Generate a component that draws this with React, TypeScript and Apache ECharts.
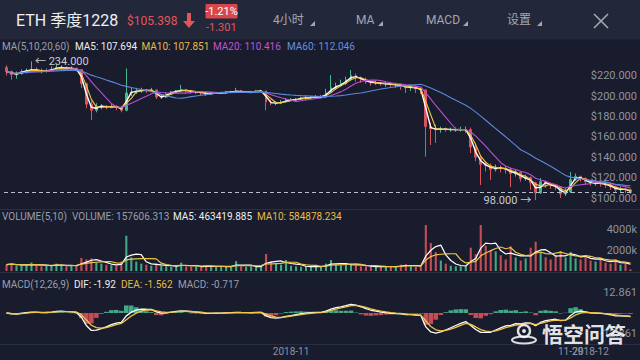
import React, { useEffect, useRef } from "react";
import * as echarts from "echarts";

// ---------- data (12h candles) ----------
const START_TIME = Date.UTC(2018, 9, 3, 12);
const STEP_HOURS = 12;
const FIRST_OPEN = 228;

const closes = [
  224, 221, 222, 224, 225, 226, 225, 224, 225, 226, 228, 228, 227, 227, 226,
  212, 192, 186, 190, 190, 189, 190, 189, 186, 203, 204, 205, 206, 205, 206,
  199, 199, 202, 204, 205, 206, 205, 204, 204, 203, 202, 203, 203, 203, 204,
  204, 205, 204, 204, 204, 205, 205, 194, 193, 193, 194, 196, 196, 197, 198,
  198, 199, 199, 199, 203, 208, 210, 212, 216, 220, 218, 216, 214, 213, 213,
  212, 212, 211, 211, 210, 208, 209, 207, 206, 170, 168, 167, 168, 167, 167,
  167, 167, 167, 150, 140, 133, 132, 128, 130, 129, 128, 124, 125, 119, 120,
  115, 105, 116, 114, 112, 111, 104, 106, 118, 121, 119, 116, 114, 115, 114,
  113, 111, 108, 109, 108, 105.398,
];
const highs = [
  230, 225, 224, 226, 227, 234, 228, 227, 227, 229, 231, 230, 229, 229, 228,
  226, 213, 195, 193, 192, 191, 192, 191, 190, 227, 208, 208, 208, 207, 208,
  206, 201, 203, 205, 206, 211, 207, 206, 205, 205, 204, 204, 204, 204, 205,
  205, 208, 206, 205, 205, 206, 206, 205, 196, 195, 196, 198, 198, 198, 199,
  200, 200, 201, 201, 207, 220.6, 213, 216, 219, 225.5, 222, 219, 218, 215, 215,
  214, 214, 213, 213, 212, 211, 211, 210, 208, 206, 174, 172, 170, 169, 169,
  169, 170, 170, 169, 152, 142, 136, 134, 133, 132, 131, 130, 128, 126, 123,
  121, 116, 119.6, 117, 115, 113, 111, 110, 125.5, 124, 122, 120, 117, 117, 116,
  115, 114, 112, 111, 110, 109,
];
const lows = [
  220, 216, 217, 221, 222, 224, 223, 222, 223, 224, 225, 226, 225, 225, 224,
  208, 188, 176.5, 184, 187, 187, 188, 186, 184, 185, 200, 202, 203, 203, 204,
  197, 197, 198, 201, 203, 204, 203, 202, 202, 201, 200, 201, 202, 202, 202,
  203, 203, 203, 203, 203, 203, 204, 186, 191, 191, 192, 194, 195, 195, 196,
  196, 197, 197, 198, 198, 203, 206, 209, 211, 215, 214, 213, 212, 210, 211,
  210, 209, 209, 208, 206, 203, 205, 203, 202, 140.5, 152, 154, 164, 165, 165,
  165, 165, 164, 144, 136, 112.7, 126, 117.6, 126, 125, 124, 110.8, 121, 116, 117,
  108, 98, 104, 110, 109, 108, 100, 102, 105, 117, 116, 113, 112, 112, 111,
  110, 108, 106, 106, 105, 104,
];
// volume in thousands
const volumesK = [
  600, 700, 550, 500, 550, 800, 500, 450, 500, 550, 700, 500, 450, 500, 550,
  1240, 1100, 1200, 800, 700, 600, 550, 500, 900, 3360, 1300, 900, 700, 600, 500,
  700, 500, 450, 400, 450, 800, 450, 400, 450, 400, 500, 450, 400, 450, 400,
  450, 940, 450, 400, 450, 400, 450, 1620, 900, 700, 600, 1050, 500, 450, 400,
  450, 400, 450, 400, 700, 1050, 600, 500, 650, 700, 500, 450, 450, 400, 400,
  450, 400, 450, 400, 600, 650, 450, 400, 450, 4380, 2670, 1800, 1000, 700, 500,
  450, 450, 500, 2220, 1600, 4380, 2400, 2000, 1870, 1500, 1100, 2350, 1300, 1000, 1200,
  2220, 2790, 1800, 1300, 1100, 1500, 1900, 1300, 1800, 1200, 1100, 1500, 1000, 900, 1200,
  800, 700, 1100, 600, 700, 158,
];

const dateTicks: Record<string, string> = {
  "2018-11-01 00:00": "2018-11",
  "2018-11-29 00:00": "11-29",
  "2018-12-01 00:00": "2018-12",
};

// 4h periods MA(5,10,20,60) / MACD(12,26,9) expressed in 12h candles
const MA_PERIODS = [2, 3, 7, 20];
const VOL_MA_PERIODS = [4, 7];
const MACD_PARAMS = [4, 9, 3];
const CURRENT_PRICE = 105.398;

const headerTitle = "ETH 季度1228";
const headerPrice = "$105.398";
const headerPct = "-1.21%";
const headerChange = "-1.301";
const menuItems = ["4小时", "MA", "MACD", "设置"];
const maTitles = ["MA(5,10,20,60)", "MA5: 107.694", "MA10: 107.851", "MA20: 110.416", "MA60: 112.046"];
const volTitles = ["VOLUME(5,10)", "VOLUME: 157606.313", "MA5: 463419.885", "MA10: 584878.234"];
const macdTitles = ["MACD(12,26,9)", "DIF: -1.92", "DEA: -1.562", "MACD: -0.717"];
const watermark = "悟空问答";

// ---------- styles ----------
const FONT = 'Roboto, "Noto Sans CJK SC", sans-serif';
const BG = "#181c2c";
const HEADER_BG = "#23273a";
const UP = "#46b98f";
const DOWN = "#d9535b";
const RED = "#e0565b";
const GRAY = "#9a9fac";
const MENU = "#a3a7b3";
const WHITE = "#eceef2";
const YELLOW = "#ebbb45";
const MAGENTA = "#bf55d6";
const BLUE = "#6690e0";
const LINE_COLORS = ["#ffffff", "#f0c545", "#b94fd8", "#5b88dc"];
const AXIS_LABEL = "#8e93a1";

function pad(n: number) {
  return String(n).padStart(2, "0");
}
function sma(vals: number[], n: number) {
  return vals.map((_, i) => {
    const s = Math.max(0, i - n + 1);
    let sum = 0;
    for (let k = s; k <= i; k++) sum += vals[k];
    return +(sum / (i - s + 1)).toFixed(3);
  });
}
function ema(vals: number[], n: number) {
  const a = 2 / (n + 1);
  const out: number[] = [];
  vals.forEach((v, i) => out.push(i === 0 ? v : a * v + (1 - a) * out[i - 1]));
  return out;
}

function txt(x: number, y: number, text: string, fill: string, size: number, extra: any = {}) {
  return {
    type: "text",
    x,
    y,
    z: 50,
    style: {
      text,
      fill,
      font: `${extra.weight || "normal"} ${size}px ${FONT}`,
      textAlign: extra.align || "left",
      align: extra.align || "left",
      textVerticalAlign: "middle",
      verticalAlign: "middle",
      opacity: extra.opacity ?? 1,
    },
  };
}

function buildOption() {
  const categories = closes.map((_, i) => {
    const d = new Date(START_TIME + i * STEP_HOURS * 3600e3);
    return `${d.getUTCFullYear()}-${pad(d.getUTCMonth() + 1)}-${pad(d.getUTCDate())} ${pad(d.getUTCHours())}:00`;
  });
  const opens = closes.map((c, i) => (i === 0 ? FIRST_OPEN : closes[i - 1]));
  const candleData = closes.map((c, i) => [opens[i], c, lows[i], highs[i]]);
  const isUp = closes.map((c, i) => c >= opens[i]);

  const maxHigh = Math.max(...highs);
  const maxIdx = highs.indexOf(maxHigh);
  const minLow = Math.min(...lows);
  const minIdx = lows.indexOf(minLow);

  const emaFast = ema(closes, MACD_PARAMS[0]);
  const emaSlow = ema(closes, MACD_PARAMS[1]);
  const dif = emaFast.map((v, i) => v - emaSlow[i]);
  const dea = ema(dif, MACD_PARAMS[2]);
  const hist = dif.map((v, i) => 2 * (v - dea[i]));

  const xAxis = [0, 1, 2].map((g) => ({
    type: "category",
    gridIndex: g,
    data: categories,
    boundaryGap: true,
    axisLine: { show: false },
    axisTick: { show: false },
    splitLine: { show: false },
    axisLabel:
      g === 2
        ? {
            show: true,
            interval: 0,
            margin: 13,
            color: AXIS_LABEL,
            fontSize: 10,
            fontFamily: FONT,
            formatter: (v: string) => dateTicks[v] || "",
          }
        : { show: false },
  }));

  const yLabel = (formatter: any) => ({
    inside: false,
    margin: 4,
    align: "right",
    color: AXIS_LABEL,
    fontSize: 11,
    fontFamily: FONT,
    formatter,
  });

  const yAxis = [
    {
      gridIndex: 0,
      position: "right",
      min: 80,
      max: 240,
      interval: 20,
      axisLine: { show: false },
      axisTick: { show: false },
      splitLine: { show: false },
      axisLabel: yLabel((v: number) => (v >= 100 && v <= 220 ? "$" + v.toFixed(3) : "")),
    },
    {
      gridIndex: 1,
      position: "right",
      min: 0,
      max: 4600,
      interval: 2000,
      axisLine: { show: false },
      axisTick: { show: false },
      splitLine: { show: false },
      axisLabel: yLabel((v: number) => (v === 2000 || v === 4000 ? v + "k" : "")),
    },
    {
      gridIndex: 2,
      position: "right",
      min: -12.861,
      max: 12.861,
      interval: 12.861,
      axisLine: { show: false },
      axisTick: { show: false },
      splitLine: { show: false },
      axisLabel: yLabel((v: number) => (Math.abs(v) < 1e-6 ? "" : v.toFixed(3))),
    },
  ];

  const maSeries = MA_PERIODS.map((p, k) => ({
    type: "line",
    xAxisIndex: 0,
    yAxisIndex: 0,
    data: sma(closes, p),
    symbol: "none",
    showSymbol: false,
    lineStyle: { width: k === 0 ? 1.4 : 1.1, color: LINE_COLORS[k] },
    z: 3,
  }));

  const volMaSeries = VOL_MA_PERIODS.map((p, k) => ({
    type: "line",
    xAxisIndex: 1,
    yAxisIndex: 1,
    data: sma(volumesK, p),
    symbol: "none",
    showSymbol: false,
    lineStyle: { width: 1.2, color: LINE_COLORS[k] },
    z: 3,
  }));

  const graphic: any[] = [
    { type: "rect", z: 0, shape: { x: 0, y: 0, width: 640, height: 39.5 }, style: { fill: HEADER_BG } },
    { type: "line", z: 1, shape: { x1: 0, y1: 209.5, x2: 640, y2: 209.5 }, style: { stroke: "#2a2e41", lineWidth: 1 } },
    { type: "line", z: 1, shape: { x1: 0, y1: 272.5, x2: 640, y2: 272.5 }, style: { stroke: "#2a2e41", lineWidth: 1 } },
    { type: "line", z: 1, shape: { x1: 0, y1: 344.5, x2: 640, y2: 344.5 }, style: { stroke: "#2a2e41", lineWidth: 1 } },
    txt(16, 20, headerTitle, "#eef0f4", 16),
    txt(127, 21, headerPrice, RED, 12),
    {
      type: "polygon",
      z: 50,
      shape: { points: [[187, 13], [191, 13], [191, 21], [195, 21], [189, 28], [183, 21], [187, 21]] },
      style: { fill: RED },
    },
    { type: "rect", z: 49, shape: { x: 205.5, y: 4, width: 32, height: 14.5, r: 1 }, style: { fill: "#d9474c" } },
    txt(221.5, 11.5, headerPct, "#ffffff", 11, { align: "center" }),
    txt(206, 27.5, headerChange, RED, 11),
    txt(273, 20, menuItems[0], MENU, 12),
    txt(356, 20, menuItems[1], MENU, 12),
    txt(426, 20, menuItems[2], MENU, 12),
    txt(507, 20, menuItems[3], MENU, 12),
    ...[310, 378, 463, 537].map((x) => ({
      type: "polygon",
      z: 50,
      shape: { points: [[x, 26], [x + 5, 26], [x + 5, 21]] },
      style: { fill: MENU },
    })),
    { type: "line", z: 50, shape: { x1: 594, y1: 14, x2: 608, y2: 28 }, style: { stroke: MENU, lineWidth: 1.6 } },
    { type: "line", z: 50, shape: { x1: 608, y1: 14, x2: 594, y2: 28 }, style: { stroke: MENU, lineWidth: 1.6 } },
    txt(2, 46.5, maTitles[0], GRAY, 10),
    txt(75, 46.5, maTitles[1], WHITE, 10),
    txt(141.5, 46.5, maTitles[2], YELLOW, 10),
    txt(213, 46.5, maTitles[3], MAGENTA, 10),
    txt(287, 46.5, maTitles[4], BLUE, 10),
    txt(2, 216.5, volTitles[0], GRAY, 10),
    txt(72, 216.5, volTitles[1], GRAY, 10),
    txt(173, 216.5, volTitles[2], WHITE, 10),
    txt(257, 216.5, volTitles[3], YELLOW, 10),
    txt(2, 284, macdTitles[0], GRAY, 10),
    txt(74, 284, macdTitles[1], WHITE, 10),
    txt(121, 284, macdTitles[2], YELLOW, 10),
    txt(178, 284, macdTitles[3], GRAY, 10),
    // watermark
    {
      type: "group",
      z: 200,
      children: [
        { type: "circle", z: 200, shape: { cx: 524, cy: 331, r: 6 }, style: { fill: "none", stroke: "rgba(255,255,255,0.85)", lineWidth: 2.4 } },
        { type: "circle", z: 200, shape: { cx: 524, cy: 331, r: 2 }, style: { fill: "rgba(255,255,255,0.85)" } },
        { type: "ellipse", z: 200, shape: { cx: 524, cy: 340, rx: 12, ry: 3.5 }, style: { fill: "none", stroke: "rgba(255,255,255,0.85)", lineWidth: 2 } },
      ],
    },
    { ...txt(542, 335, watermark, "rgba(255,255,255,0.88)", 21, { weight: "bold" }), z: 200 },
  ];

  return {
    animation: false,
    backgroundColor: BG,
    textStyle: { fontFamily: FONT },
    grid: [
      { left: 4, right: 4, top: 55.2, height: 163.2 },
      { left: 4, right: 4, top: 222.7, height: 48.3 },
      { left: 4, right: 4, top: 292.5, height: 41 },
    ],
    xAxis,
    yAxis,
    graphic,
    series: [
      {
        type: "candlestick",
        xAxisIndex: 0,
        yAxisIndex: 0,
        data: candleData,
        barWidth: "45%",
        itemStyle: { color: UP, color0: DOWN, borderColor: UP, borderColor0: DOWN, borderWidth: 1 },
        z: 2,
        markPoint: {
          symbol: "circle",
          symbolSize: 1,
          itemStyle: { color: "rgba(0,0,0,0)" },
          data: [
            {
              coord: [maxIdx, maxHigh],
              label: { show: true, position: "right", distance: 3, formatter: "← " + maxHigh.toFixed(3), color: "#c8ccd6", fontSize: 11, fontFamily: FONT },
            },
            {
              coord: [minIdx, minLow],
              label: { show: true, position: "left", distance: 4, formatter: minLow.toFixed(3) + " →", color: "#c8ccd6", fontSize: 11, fontFamily: FONT },
            },
          ],
        },
        markLine: {
          silent: true,
          symbol: ["none", "none"],
          label: { show: false },
          lineStyle: { type: [4, 3], color: "#b9bdc8", width: 1 },
          data: [{ yAxis: CURRENT_PRICE }],
        },
      },
      ...maSeries,
      {
        type: "bar",
        xAxisIndex: 1,
        yAxisIndex: 1,
        barWidth: "42%",
        data: volumesK.map((v, i) => ({ value: v, itemStyle: { color: isUp[i] ? UP : DOWN, opacity: 0.9 } })),
        z: 2,
      },
      ...volMaSeries,
      {
        type: "bar",
        xAxisIndex: 2,
        yAxisIndex: 2,
        barWidth: "92%",
        data: hist.map((v) => ({ value: +v.toFixed(3), itemStyle: { color: v >= 0 ? UP : DOWN, opacity: 0.9 } })),
        z: 2,
      },
      {
        type: "line",
        xAxisIndex: 2,
        yAxisIndex: 2,
        data: dif.map((v) => +v.toFixed(3)),
        symbol: "none",
        showSymbol: false,
        clip: false,
        lineStyle: { width: 1.3, color: LINE_COLORS[0] },
        z: 3,
      },
      {
        type: "line",
        xAxisIndex: 2,
        yAxisIndex: 2,
        data: dea.map((v) => +v.toFixed(3)),
        symbol: "none",
        showSymbol: false,
        clip: false,
        lineStyle: { width: 1.3, color: LINE_COLORS[1] },
        z: 3,
      },
    ],
  };
}

export default function App() {
  const ref = useRef<HTMLDivElement>(null);
  useEffect(() => {
    if (!ref.current) return;
    const chart = echarts.init(ref.current, null, { renderer: "svg" });
    chart.setOption(buildOption() as any);
    return () => chart.dispose();
  }, []);
  return <div ref={ref} style={{ position: "fixed", left: 0, top: 0, width: 640, height: 360 }} />;
}
